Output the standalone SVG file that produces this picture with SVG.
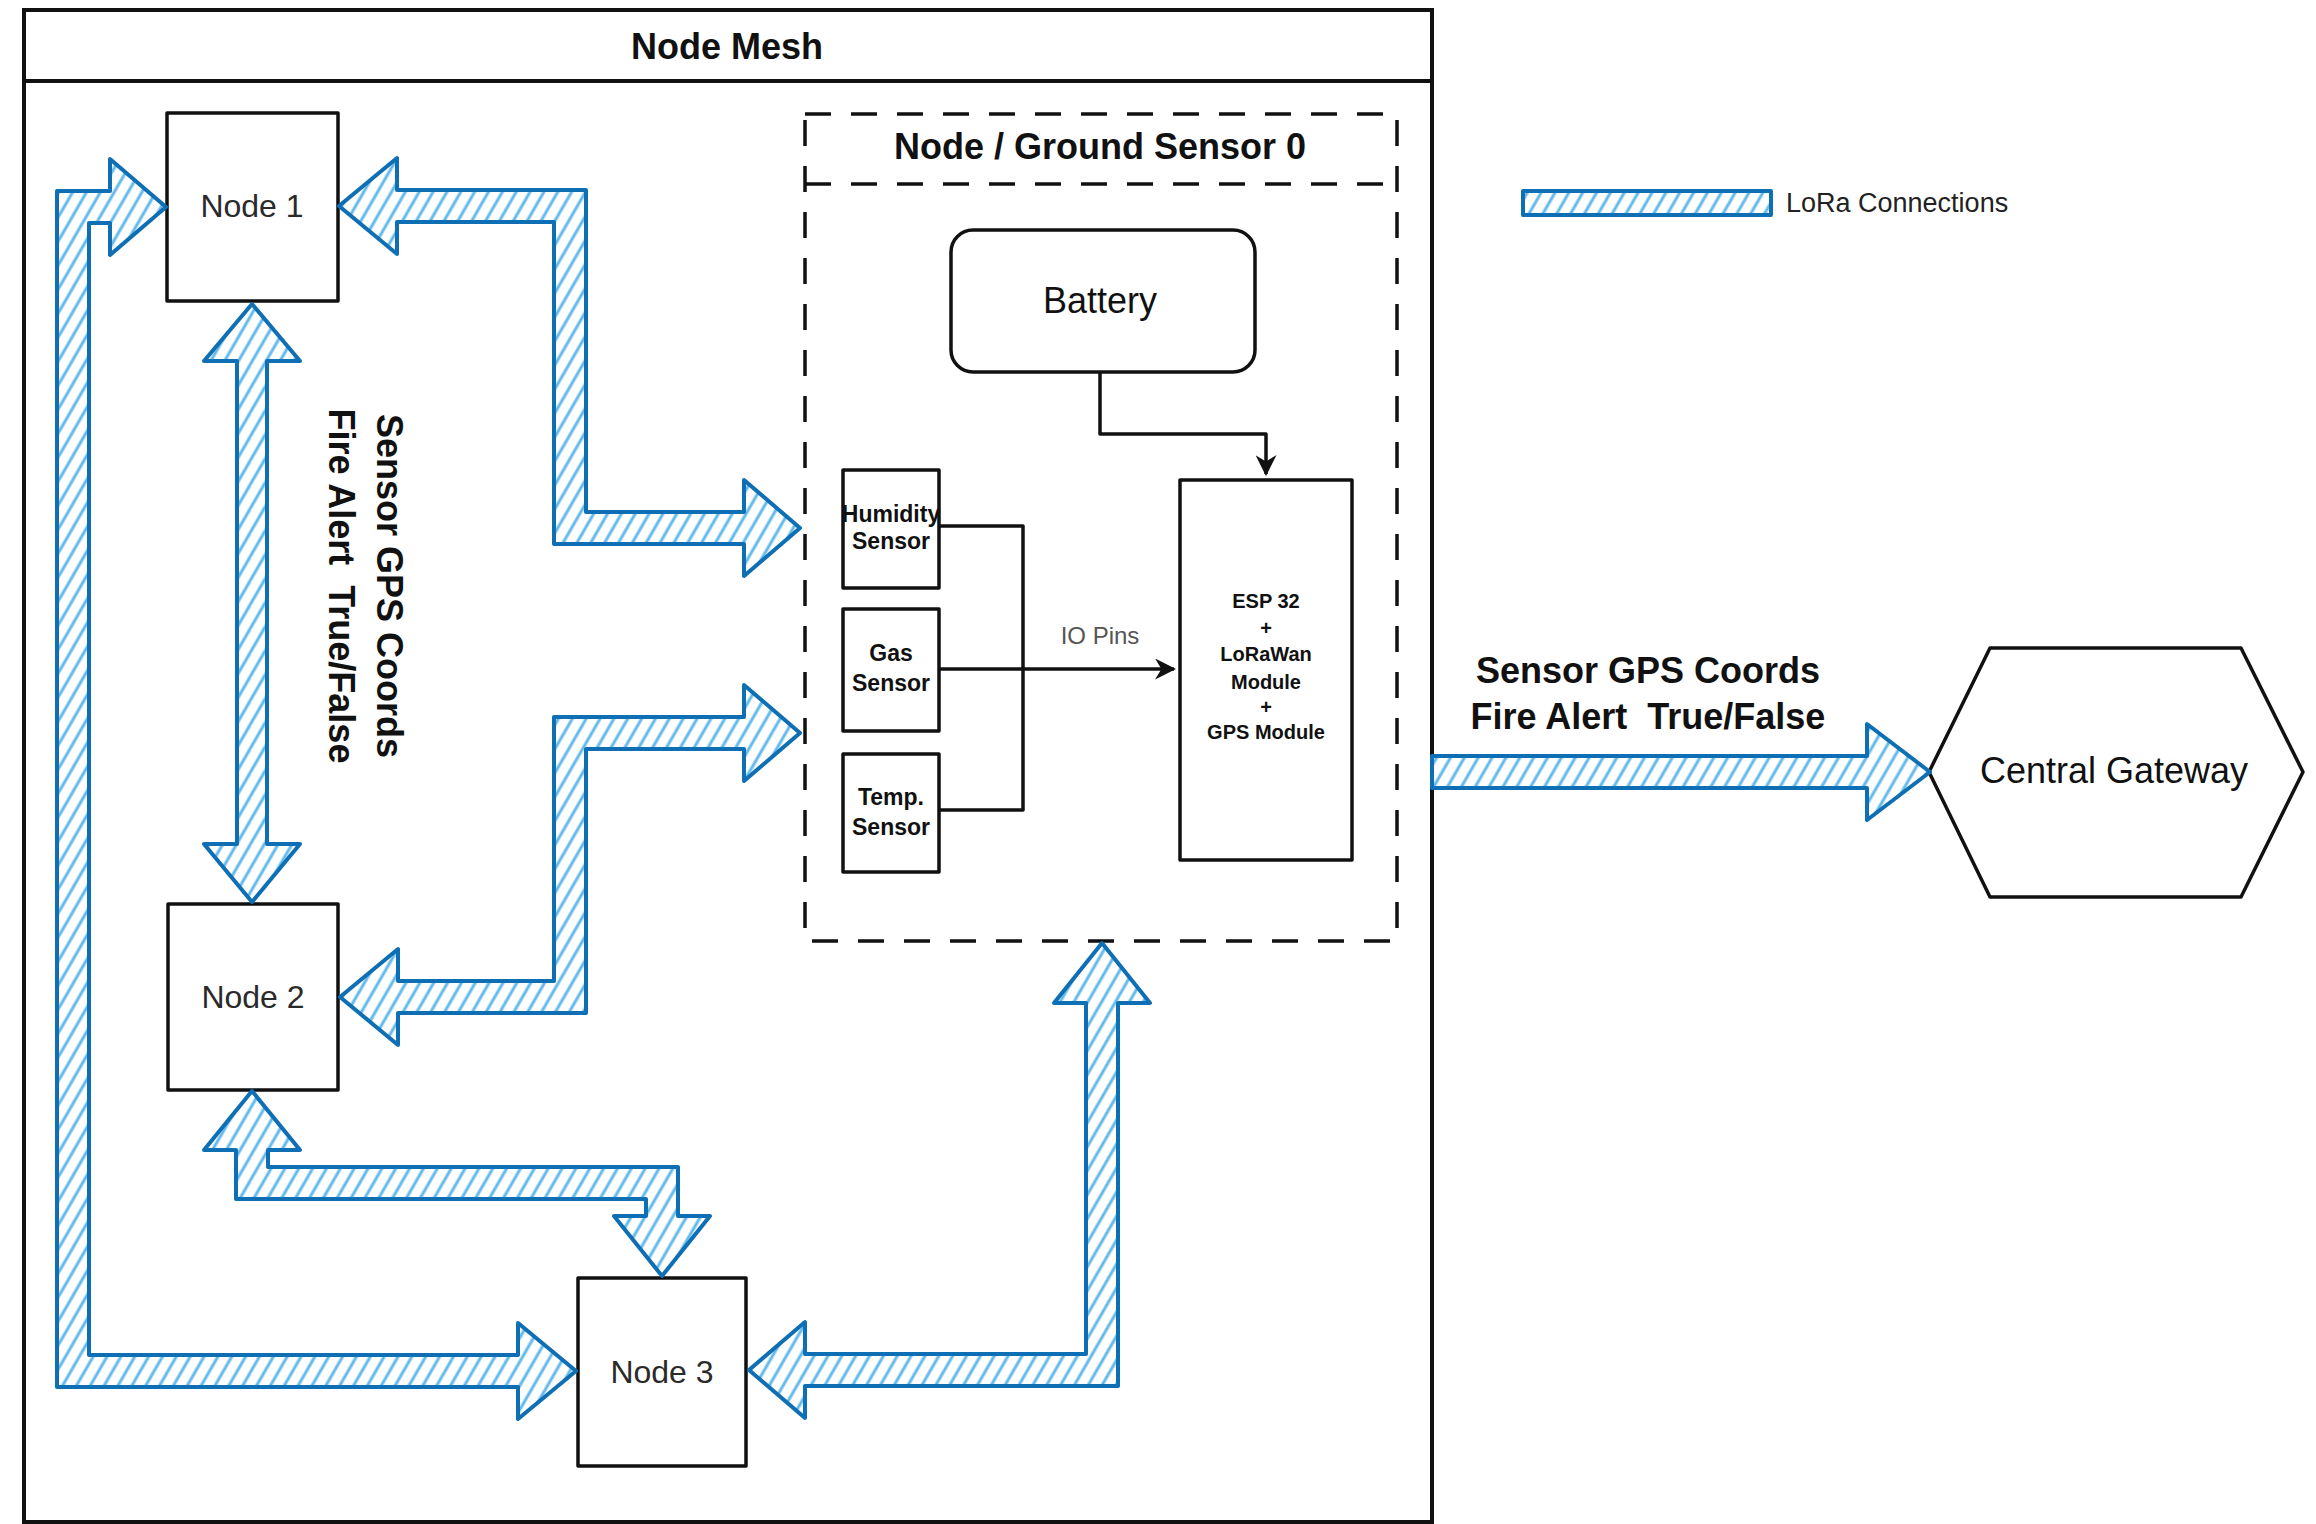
<svg xmlns="http://www.w3.org/2000/svg" width="2316" height="1524" viewBox="0 0 2316 1524">
  <style>
    .box { fill: #ffffff; stroke: #111111; stroke-width: 3.5; stroke-linejoin: round; }
    .dash { fill: none; stroke: #111111; stroke-width: 3.5; stroke-dasharray: 26 20; }
    .wire { fill: none; stroke: #111111; stroke-width: 3.5; stroke-linejoin: round; }
    .lora { fill: url(#hatch); stroke: #0f6fb5; stroke-width: 4; stroke-linejoin: round; }
    .title { font-family: "Liberation Sans", Arial, sans-serif; font-size: 36px; font-weight: bold; fill: #111111; text-anchor: middle; }
    .big { font-family: "Liberation Sans", Arial, sans-serif; font-size: 36px; fill: #111111; text-anchor: middle; }
    .node { font-family: "Liberation Sans", Arial, sans-serif; font-size: 32px; fill: #2a2a2a; text-anchor: middle; }
    .sensor { font-family: "Liberation Sans", Arial, sans-serif; font-size: 23px; font-weight: bold; fill: #111111; text-anchor: middle; }
    .esp { font-family: "Liberation Sans", Arial, sans-serif; font-size: 20px; font-weight: bold; fill: #111111; text-anchor: middle; }
    .io { font-family: "Liberation Sans", Arial, sans-serif; font-size: 24px; fill: #555555; text-anchor: middle; }
    .legend { font-family: "Liberation Sans", Arial, sans-serif; font-size: 27px; fill: #222222; }
  </style>
  <defs>
    <pattern id="hatch" width="12" height="12" patternUnits="userSpaceOnUse" patternTransform="rotate(30)">
      <rect width="12" height="12" fill="#ffffff"/>
      <line x1="3" y1="0" x2="3" y2="12" stroke="#62b9ec" stroke-width="3"/>
    </pattern>
    <marker id="arr" viewBox="0 0 10 10" refX="9" refY="5" markerWidth="6" markerHeight="6" orient="auto" markerUnits="strokeWidth">
      <path d="M0,0 L10,5 L0,10 L3,5 Z" fill="#111111"/>
    </marker>
  </defs>

  <rect width="2316" height="1524" fill="#ffffff"/>

  <!-- Node Mesh container -->
  <g id="node-mesh">
    <rect x="24" y="10" width="1408" height="1512" fill="#ffffff" stroke="#111111" stroke-width="4"/>
    <line x1="24" y1="81" x2="1432" y2="81" stroke="#111111" stroke-width="4"/>
    <text class="title" x="727" y="59">Node Mesh</text>
  </g>

  <!-- Node / Ground Sensor 0 container -->
  <g id="ground-sensor">
    <rect class="dash" x="805" y="114" width="592" height="827"/>
    <line class="dash" x1="805" y1="184" x2="1397" y2="184"/>
    <text class="title" x="1100" y="159">Node / Ground Sensor 0</text>
  </g>

  <g id="battery">
    <rect class="box" x="951" y="230" width="304" height="142" rx="22" ry="22"/>
    <text class="big" x="1100" y="313">Battery</text>
  </g>

  <g id="esp32">
    <rect class="box" x="1180" y="480" width="172" height="380"/>
    <text class="esp" x="1266" y="608">ESP 32</text>
    <text class="esp" x="1266" y="635">+</text>
    <text class="esp" x="1266" y="661">LoRaWan</text>
    <text class="esp" x="1266" y="689">Module</text>
    <text class="esp" x="1266" y="714">+</text>
    <text class="esp" x="1266" y="739">GPS Module</text>
  </g>

  <g id="humidity-sensor">
    <rect class="box" x="843" y="470" width="96" height="118"/>
    <text class="sensor" x="891" y="522">Humidity</text>
    <text class="sensor" x="891" y="549">Sensor</text>
  </g>

  <g id="gas-sensor">
    <rect class="box" x="843" y="609" width="96" height="122"/>
    <text class="sensor" x="891" y="661">Gas</text>
    <text class="sensor" x="891" y="691">Sensor</text>
  </g>

  <g id="temp-sensor">
    <rect class="box" x="843" y="754" width="96" height="118"/>
    <text class="sensor" x="891" y="805">Temp.</text>
    <text class="sensor" x="891" y="835">Sensor</text>
  </g>

  <g id="node-1">
    <rect class="box" x="167" y="113" width="171" height="188"/>
    <text class="node" x="252" y="217">Node 1</text>
  </g>

  <g id="node-2">
    <rect class="box" x="168" y="904" width="170" height="186"/>
    <text class="node" x="253" y="1008">Node 2</text>
  </g>

  <g id="node-3">
    <rect class="box" x="578" y="1278" width="168" height="188"/>
    <text class="node" x="662" y="1383">Node 3</text>
  </g>

  <g id="central-gateway">
    <polygon class="box" points="1929,772 1990,648 2241,648 2303,772 2241,897 1990,897"/>
    <text class="big" x="2114" y="783">Central Gateway</text>
  </g>

  <g id="legend">
    <rect class="lora" x="1523" y="191" width="248" height="24"/>
    <text class="legend" x="1786" y="212">LoRa Connections</text>
  </g>

  <!-- Connectors -->
  <g id="connectors">
    <!-- wired -->
    <polyline class="wire" points="1100,372 1100,434 1266,434 1266,474" marker-end="url(#arr)"/>
    <polyline class="wire" points="939,526 1023,526 1023,669"/>
    <polyline class="wire" points="939,810 1023,810 1023,669"/>
    <polyline class="wire" points="939,669 1174,669" marker-end="url(#arr)"/>
    <text class="io" x="1100" y="644">IO Pins</text>

    <!-- LoRa flex arrows -->
    <polygon class="lora" points="339,206 397,158 397,190 586,190 586,512 744,512 744,480 800,528 744,576 744,544 554,544 554,222 397,222 397,254"/>
    <polygon class="lora" points="340,997 398,949 398,981 554,981 554,717 744,717 744,685 800,733 744,781 744,749 586,749 586,1013 398,1013 398,1045"/>
    <polygon class="lora" points="252,304 300,361 267,361 267,844 300,844 252,902 204,844 237,844 237,361 204,361"/>
    <polygon class="lora" points="252,1091 300,1150 268,1150 268,1167 678,1167 678,1216 710,1216 662,1276 614,1216 646,1216 646,1199 236,1199 236,1150 204,1150"/>
    <polygon class="lora" points="166,207 110,255 110,223 89,223 89,1355 518,1355 518,1323 576,1371 518,1419 518,1387 57,1387 57,191 110,191 110,159"/>
    <polygon class="lora" points="749,1370 805,1322 805,1354 1086,1354 1086,1003 1054,1003 1102,943 1150,1003 1118,1003 1118,1386 805,1386 805,1418"/>
    <polygon class="lora" points="1432,756 1867,756 1867,724 1930,772 1867,820 1867,788 1432,788"/>

    <!-- labels -->
    <g transform="translate(366,586) rotate(90)">
      <text class="title" x="0" y="-11">Sensor GPS Coords</text>
      <text class="title" x="0" y="37" xml:space="preserve">Fire Alert  True/False</text>
    </g>
    <text class="title" x="1648" y="683">Sensor GPS Coords</text>
    <text class="title" x="1648" y="729" xml:space="preserve">Fire Alert  True/False</text>
  </g>
</svg>
